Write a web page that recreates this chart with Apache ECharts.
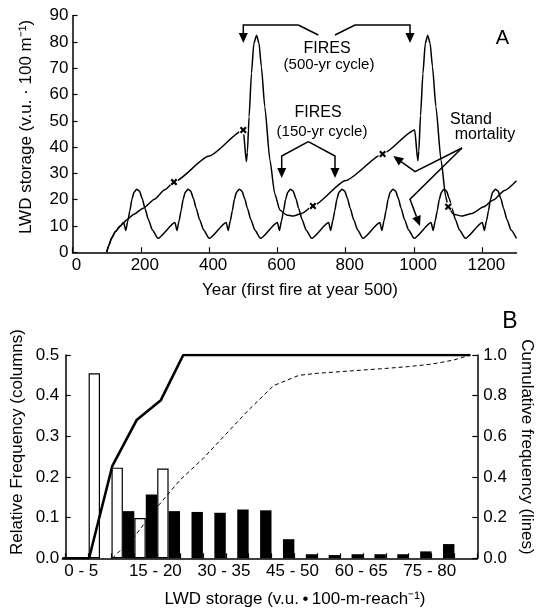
<!DOCTYPE html>
<html>
<head>
<meta charset="utf-8">
<script src="https://cdn.jsdelivr.net/npm/echarts@6/dist/echarts.min.js"></script>
<style>
  html, body { margin: 0; padding: 0; background: #fff; }
  #chart { width: 541px; height: 613px; }
</style>
</head>
<body>
<div id="chart"></div>
<script>
// ---- Panel A: LWD storage through time (year, v.u. per 100 m) ----
const cycle500 = [
  [100, 0], [106, 2.5], [115, 5.5], [125, 7.8], [140, 10], [150, 11.3], [158, 12.3], [180, 14.5],
  [207, 16.8], [240, 20.2], [270, 23.8], [297, 26.7], [400, 36.6], [500, 46.5], [509, 34.5],
  [512, 38], [517, 51.6], [524, 68.1], [531, 79.5], [539, 82.6], [546, 79.5], [553, 70.6],
  [563, 55.4], [578, 35.1], [592, 22.4], [607, 16.1], [627, 14.2], [646, 13.8], [671, 14.8],
  [704, 17.6], [800, 27.3], [908, 37.4], [1002, 46.5], [1011, 34.8], [1014, 38.5], [1019, 52],
  [1026, 68], [1033, 79.5], [1040, 82.6], [1047, 79.5], [1054, 70.6], [1064, 55.4], [1079, 35.1],
  [1093, 21], [1100, 17.3], [1115, 14.5], [1140, 13.8], [1170, 14.8], [1204, 17.3], [1232, 19.9],
  [1265, 23.5], [1300, 27.2]
];

const cycle150 = [
  [100, 0], [106, 2.5], [115, 5.5], [125, 7.8], [140, 10],
  [150, 11.3], [156, 8.3], [162, 12], [168, 15.8], [174, 20.2], [180, 22.8], [188, 24], [196, 23.3],
  [204, 20.5], [212, 16.8], [222, 12.5], [234, 8.5], [250, 5.3],
  [300, 11.3], [306, 8.3], [312, 12], [318, 15.8], [324, 20.2], [330, 22.8], [338, 24], [346, 23.3],
  [354, 20.5], [362, 16.8], [372, 12.5], [384, 8.5], [400, 5.3],
  [450, 11.3], [456, 8.3], [462, 12], [468, 15.8], [474, 20.2], [480, 22.8], [488, 24], [496, 23.3],
  [504, 20.5], [512, 16.8], [522, 12.5], [534, 8.5], [550, 5.3],
  [600, 11.3], [606, 8.3], [612, 12], [618, 15.8], [624, 20.2], [630, 22.8], [638, 24], [646, 23.3],
  [654, 20.5], [662, 16.8], [672, 12.5], [684, 8.5], [700, 5.3],
  [750, 11.3], [756, 8.3], [762, 12], [768, 15.8], [774, 20.2], [780, 22.8], [789, 24], [797, 23.3],
  [805, 20.5], [813, 16.8], [823, 12.5], [835, 8.5], [850, 5.3],
  [900, 11.3], [906, 8.3], [912, 12], [918, 15.8], [924, 20.2], [930, 22.8], [938, 24], [946, 23.3],
  [954, 20.5], [962, 16.8], [972, 12.5], [984, 8.5], [1000, 5.3],
  [1050, 11.3], [1056, 8.3], [1062, 12], [1068, 15.8], [1074, 20.2], [1080, 22.8], [1087, 24], [1095, 23.3],
  [1103, 20.5], [1111, 16.8], [1121, 12.5], [1133, 8.5], [1150, 5.3],
  [1200, 11.3], [1206, 8.3], [1212, 12], [1218, 15.8], [1224, 20.2], [1230, 22.8], [1238, 24], [1246, 23.3],
  [1254, 20.5], [1262, 16.8], [1272, 12.5], [1284, 8.5], [1300, 5.3]
];

// stand mortality markers on the 500-yr curve
const mortality = [[297, 26.7], [500, 46.5], [704, 17.6], [908, 37.4], [1100, 17.3]];

// ---- Panel B: frequency distributions (bins of 5 v.u.) ----
const binStarts = [0, 5, 10, 15, 20, 25, 30, 35, 40, 45, 50, 55, 60, 65, 70, 75, 80, 85];
const openFreq  = [0, 0.455, 0.223, 0.099, 0.221, 0, 0, 0, 0, 0, 0, 0, 0, 0, 0, 0, 0, 0];
const solidFreq = [0, 0, 0.116, 0.157, 0.116, 0.114, 0.112, 0.120, 0.118, 0.047,
                   0.010, 0.008, 0.010, 0.010, 0.010, 0.017, 0.035, 0];

// cumulative frequency lines
const openCumX  = [-0.75, 5.1, 10.2, 15.5, 20.8, 25.7, 88.5];
const openCumY  = [0, 0, 0.455, 0.68, 0.778, 1.0, 1.0];
const solidCumX = [10.2, 15.1, 20.1, 25, 30, 35, 40, 45.5, 51, 55, 60, 65, 70, 75, 80, 84.8, 88.5];
const solidCumY = [0, 0.11, 0.255, 0.385, 0.49, 0.61, 0.73, 0.85, 0.9, 0.91, 0.918, 0.926, 0.934, 0.943, 0.955, 0.975, 1.0];

const binLabels = ['0 - 5', '15 - 20', '30 - 35', '45 - 50', '60 - 65', '75 - 80'];
const binLabelPos = [3.4, 19.6, 34.6, 49.6, 64.6, 79.6];

const FONT = 'Liberation Sans';
const chart = echarts.init(document.getElementById('chart'));

const axisLine = { show: true, lineStyle: { color: '#000', width: 1.5 } };
const axisTick = { show: true, inside: true, length: 5, lineStyle: { color: '#000', width: 1.2 } };
const labelStyle = { color: '#000', fontFamily: FONT, fontSize: 17 };

// annotation helpers (pixel positions)
function text(str, x, y, size, rot) {
  return {
    type: 'text', x: x, y: y, rotation: rot || 0, z: 100,
    style: { text: str, fill: '#000', font: size + 'px "' + FONT + '"', align: 'center', verticalAlign: 'middle' }
  };
}
function arrow(points) {
  const tip = points[points.length - 1];
  const prev = points[points.length - 2];
  const dx = tip[0] - prev[0], dy = tip[1] - prev[1];
  const len = Math.sqrt(dx * dx + dy * dy);
  const ux = dx / len, uy = dy / len;
  const L = 10, W = 4.5;
  const bx = tip[0] - ux * L, by = tip[1] - uy * L;
  return [
    { type: 'polyline', z: 100, shape: { points: points.slice(0, -1).concat([[bx, by]]) },
      style: { stroke: '#000', lineWidth: 1.5, fill: null } },
    { type: 'polygon', z: 100, shape: { points: [tip, [bx - uy * W, by + ux * W], [bx + uy * W, by - ux * W]] },
      style: { fill: '#000' } }
  ];
}

const graphics = [].concat(
  arrow([[298.3, 25], [243.3, 25], [243.3, 43]]),
  [{ type: 'polyline', z: 100, shape: { points: [[298.3, 25], [318.3, 35]] }, style: { stroke: '#000', lineWidth: 1.5, fill: null } }],
  arrow([[335, 35], [355, 25], [410, 25], [410, 43]]),
  arrow([[308.3, 141.7], [281.7, 156], [281.7, 178]]),
  arrow([[308.3, 141.7], [335, 156], [335, 178]]),
  arrow([[462, 148], [415, 171.7], [393.3, 156]]),
  arrow([[462, 148], [410, 199.3], [420, 226]]),
  [
    text('FIRES', 327, 49, 16),
    text('(500-yr cycle)', 329, 65, 15),
    text('FIRES', 318, 113, 16),
    text('(150-yr cycle)', 322, 131.5, 15),
    text('Stand', 471, 120, 16),
    text('mortality', 485, 135, 16),
    text('A', 502.5, 38.5, 20),
    text('B', 510, 322, 23),
    text('LWD storage (v.u. \u00b7 100 m\u207b\u00b9)', 26.5, 127, 17, Math.PI / 2),
    text('Year (first fire at year 500)', 300, 290.5, 17),
    text('Relative Frequency (columns)', 17, 442, 17, Math.PI / 2),
    text('Cumulative frequency (lines)', 527, 447, 17, -Math.PI / 2),
    text('LWD storage (v.u.\u2009\u2022\u2009100-m-reach\u207b\u00b9)', 295, 599, 17)
  ]
);

const xMark = 'path://M0,2.2L2.2,0L5,2.8L7.8,0L10,2.2L7.2,5L10,7.8L7.8,10L5,7.2L2.2,10L0,7.8L2.8,5Z';

chart.setOption({
  animation: false,
  backgroundColor: '#fff',
  grid: [
    { left: 72.5, top: 15.7, width: 444, height: 236.6, outerBoundsMode: 'none', containLabel: false },
    { left: 62.3, top: 355, width: 415, height: 203.3, outerBoundsMode: 'none', containLabel: false }
  ],
  xAxis: [
    { gridIndex: 0, type: 'value', min: 0, max: 1300, interval: 200,
      axisLine: axisLine, axisTick: axisTick, splitLine: { show: false },
      axisLabel: Object.assign({ margin: 5, padding: [0, 0, 0, 8], showMaxLabel: false,
        formatter: function (v) { return String(v); } }, labelStyle) },
    { gridIndex: 1, type: 'value', min: -0.75, max: 90,
      axisLine: axisLine, splitLine: { show: false },
      axisTick: Object.assign({}, axisTick, { customValues: binStarts.concat([90]) }),
      axisLabel: Object.assign({
        margin: 5, customValues: binLabelPos,
        formatter: function (v) {
          let best = 0;
          binLabelPos.forEach(function (p, i) { if (Math.abs(p - v) < Math.abs(binLabelPos[best] - v)) best = i; });
          return binLabels[best];
        }
      }, labelStyle) }
  ],
  yAxis: [
    { gridIndex: 0, type: 'value', min: 0, max: 90, interval: 10,
      axisLine: axisLine, axisTick: axisTick, splitLine: { show: false },
      axisLabel: Object.assign({ margin: 4 }, labelStyle) },
    { gridIndex: 1, type: 'value', position: 'left', min: 0, max: 0.5, interval: 0.1,
      axisLine: axisLine, axisTick: axisTick, splitLine: { show: false },
      axisLabel: Object.assign({ margin: 3, formatter: function (v) { return v.toFixed(1); } }, labelStyle) },
    { gridIndex: 1, type: 'value', position: 'right', min: 0, max: 1, interval: 0.2,
      axisLine: axisLine, axisTick: axisTick, splitLine: { show: false },
      axisLabel: Object.assign({ margin: 6, formatter: function (v) { return v.toFixed(1); } }, labelStyle) }
  ],
  series: [
    { name: '500-yr fire cycle', type: 'line', xAxisIndex: 0, yAxisIndex: 0, data: cycle500,
      showSymbol: false, smooth: 0.2, smoothMonotone: 'x', lineStyle: { color: '#000', width: 1.5 } },
    { name: '150-yr fire cycle', type: 'line', xAxisIndex: 0, yAxisIndex: 0, data: cycle150,
      showSymbol: false, smooth: 0.2, smoothMonotone: 'x', lineStyle: { color: '#000', width: 1.5 } },
    { name: 'gap', type: 'scatter', xAxisIndex: 0, yAxisIndex: 0, data: mortality, z: 5,
      symbol: 'circle', symbolSize: 9, itemStyle: { color: '#fff', opacity: 1 } },
    { name: 'Stand mortality', type: 'scatter', xAxisIndex: 0, yAxisIndex: 0, data: mortality, z: 6,
      symbol: xMark, symbolSize: 7, itemStyle: { color: '#000', opacity: 1 } },
    { name: 'open columns', type: 'bar', xAxisIndex: 1, yAxisIndex: 1, barWidth: 11.4, barGap: '-100%',
      data: binStarts.map(function (s, i) { return [s + 1.25, openFreq[i]]; }).filter(function (d) { return d[1] > 0; }),
      itemStyle: { color: '#fff', borderColor: '#000', borderWidth: 1.2 } },
    { name: 'solid columns', type: 'bar', xAxisIndex: 1, yAxisIndex: 1, barWidth: 11.4, barGap: '-100%',
      data: binStarts.map(function (s, i) { return [s + 3.75, solidFreq[i]]; }).filter(function (d) { return d[1] > 0; }),
      itemStyle: { color: '#000' } },
    { name: 'open cumulative', type: 'line', xAxisIndex: 1, yAxisIndex: 2, z: 4, showSymbol: false,
      data: openCumX.map(function (x, i) { return [x, openCumY[i]]; }),
      lineStyle: { color: '#000', width: 2.6 } },
    { name: 'solid cumulative', type: 'line', xAxisIndex: 1, yAxisIndex: 2, z: 4, showSymbol: false,
      data: solidCumX.map(function (x, i) { return [x, solidCumY[i]]; }),
      lineStyle: { color: '#000', width: 1, type: [4, 3] } }
  ],
  graphic: graphics
});
</script>
</body>
</html>
